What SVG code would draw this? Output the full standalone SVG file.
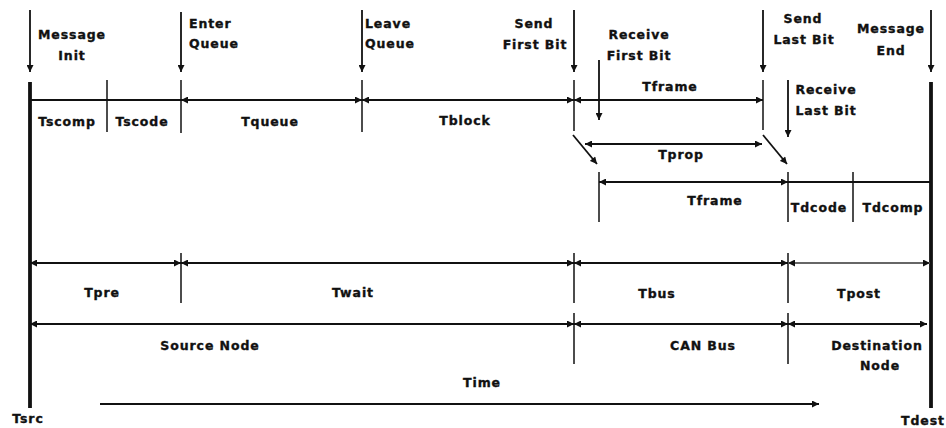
<svg xmlns="http://www.w3.org/2000/svg" width="946" height="428" viewBox="0 0 946 428">
<style>
.t{font-family:"DejaVu Sans","Liberation Sans",sans-serif;font-weight:bold;font-size:12.5px;letter-spacing:0.9px;fill:#111;stroke:#111;stroke-width:0.35px}
.m{text-anchor:middle}
.ln{stroke:#111;stroke-width:1.8;fill:none}
.tk{stroke:#111;stroke-width:1.5;fill:none}
.thick{stroke:#111;stroke-width:3.8;fill:none}
.gray{stroke:#666;stroke-width:2.2}
.a1{marker-end:url(#ah)}
.a2{marker-start:url(#ah);marker-end:url(#ah)}
</style>
<defs>
<marker id="ah" viewBox="0 0 10 10" refX="10" refY="5" markerWidth="9" markerHeight="7" markerUnits="userSpaceOnUse" orient="auto-start-reverse">
<path d="M0,0 L10,5 L0,10 z" fill="#111"/>
</marker>
</defs>
<rect width="946" height="428" fill="#fff"/>

<g id="timelines">
<line class="thick" x1="30" y1="82" x2="30" y2="408"/>
<line class="thick" x1="931" y1="82" x2="931" y2="408"/>
<text class="t m" x="28" y="423">Tsrc</text>
<text class="t m" x="923" y="425">Tdest</text>
</g>

<g id="ticks">
<line class="tk" x1="107" y1="80" x2="107" y2="132"/>
<line class="tk" x1="181" y1="80" x2="181" y2="133"/>
<line class="tk" x1="362" y1="80" x2="362" y2="132"/>
<line class="tk" x1="574" y1="80" x2="574" y2="131"/>
<line class="tk" x1="763" y1="80" x2="763" y2="130"/>
<line class="tk" x1="599" y1="172" x2="599" y2="222"/>
<line class="tk" x1="788" y1="172" x2="788" y2="222"/>
<line class="tk" x1="853" y1="172" x2="853" y2="222"/>
<line class="tk" x1="181" y1="253" x2="181" y2="303"/>
<line class="tk" x1="574" y1="253" x2="574" y2="303"/>
<line class="tk" x1="788" y1="253" x2="788" y2="303"/>
<line class="tk" x1="574" y1="313" x2="574" y2="364"/>
<line class="tk" x1="788" y1="313" x2="788" y2="364"/>
</g>

<g id="connectors">
<line class="ln a1" x1="30" y1="10" x2="30" y2="72"/>
<line class="ln a1" x1="181" y1="12" x2="181" y2="72"/>
<line class="ln a1" x1="362" y1="10" x2="362" y2="72"/>
<line class="ln a1" x1="574" y1="10" x2="574" y2="72"/>
<line class="ln a1" x1="599" y1="60" x2="599" y2="120"/>
<line class="ln a1" x1="763" y1="10" x2="763" y2="72"/>
<line class="ln a1" x1="788" y1="80" x2="788" y2="137"/>
<line class="ln a1" x1="931" y1="10" x2="931" y2="72"/>
<line class="ln" x1="30" y1="100" x2="181" y2="100"/>
<line class="ln a2" x1="181" y1="100" x2="362" y2="100"/>
<line class="ln a2" x1="362" y1="100" x2="574" y2="100"/>
<line class="ln a2" x1="574" y1="100" x2="763" y2="100"/>
<line class="ln a1" x1="573" y1="135" x2="597" y2="164"/>
<line class="ln a1" x1="763" y1="135" x2="787" y2="164"/>
<line class="ln a2" x1="585" y1="144" x2="762" y2="144"/>
<line class="ln a2" x1="599" y1="182" x2="788" y2="182"/>
<line class="ln" x1="788" y1="182" x2="931" y2="182"/>
<line class="ln a2" x1="30" y1="263" x2="181" y2="263"/>
<line class="ln a2" x1="181" y1="263" x2="574" y2="263"/>
<line class="ln a2" x1="574" y1="263" x2="788" y2="263"/>
<line class="ln gray a2" x1="788" y1="263" x2="930" y2="263"/>
<line class="ln a2" x1="30" y1="324" x2="574" y2="324"/>
<line class="ln a2" x1="574" y1="324" x2="788" y2="324"/>
<line class="ln a2" x1="788" y1="324" x2="927" y2="324"/>
<line class="ln a1" x1="100" y1="404" x2="819" y2="404"/>
</g>

<g id="event-labels">
<text class="t m" x="72" y="39">Message</text>
<text class="t m" x="72" y="60">Init</text>
<text class="t" x="189" y="28">Enter</text>
<text class="t" x="189" y="48">Queue</text>
<text class="t" x="365" y="28">Leave</text>
<text class="t" x="365" y="48">Queue</text>
<text class="t m" x="534" y="28">Send</text>
<text class="t m" x="535" y="49">First Bit</text>
<text class="t m" x="639" y="39">Receive</text>
<text class="t m" x="639" y="60">First Bit</text>
<text class="t m" x="803" y="23">Send</text>
<text class="t m" x="804" y="44">Last Bit</text>
<text class="t m" x="891" y="33">Message</text>
<text class="t m" x="891" y="55">End</text>
<text class="t m" x="826" y="94">Receive</text>
<text class="t m" x="826" y="115">Last Bit</text>
</g>

<g id="interval-labels">
<text class="t m" x="67" y="126">Tscomp</text>
<text class="t m" x="142" y="126">Tscode</text>
<text class="t m" x="270" y="126">Tqueue</text>
<text class="t m" x="465" y="125">Tblock</text>
<text class="t m" x="670" y="91">Tframe</text>
<text class="t m" x="681" y="159">Tprop</text>
<text class="t m" x="715" y="205">Tframe</text>
<text class="t m" x="819" y="212">Tdcode</text>
<text class="t m" x="893" y="212">Tdcomp</text>
<text class="t m" x="102" y="297">Tpre</text>
<text class="t m" x="353" y="297">Twait</text>
<text class="t m" x="657" y="298">Tbus</text>
<text class="t m" x="859" y="298">Tpost</text>
<text class="t m" x="210" y="350">Source Node</text>
<text class="t m" x="703" y="350">CAN Bus</text>
<text class="t m" x="877" y="350">Destination</text>
<text class="t m" x="880" y="370">Node</text>
<text class="t m" x="482" y="387">Time</text>
</g>
</svg>
